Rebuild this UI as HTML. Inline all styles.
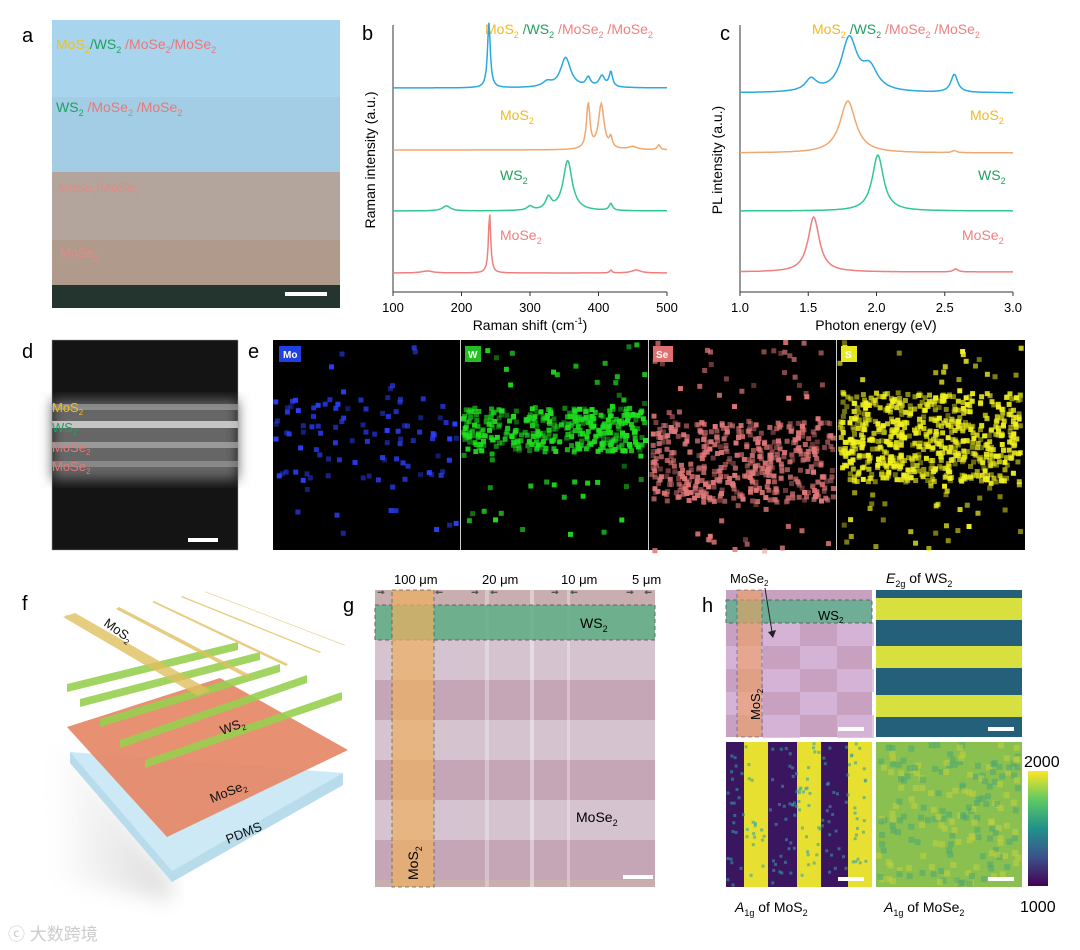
<!DOCTYPE html>
<html><head><meta charset="utf-8"><style>
html,body{margin:0;padding:0;background:#fff}
svg{display:block;font-family:"Liberation Sans",Arial,sans-serif}
</style></head><body>
<svg id="fig" width="1080" height="950" viewBox="0 0 1080 950">
<defs>
<linearGradient id="shadow" x1="0" y1="0" x2="1" y2="0"><stop offset="0" stop-color="#fff"/><stop offset="1" stop-color="#999"/></linearGradient>
<linearGradient id="cbar" x1="0" y1="1" x2="0" y2="0"><stop offset="0" stop-color="#440154"/><stop offset="0.25" stop-color="#3b528b"/><stop offset="0.5" stop-color="#21918c"/><stop offset="0.75" stop-color="#5ec962"/><stop offset="1" stop-color="#fde725"/></linearGradient>
<filter id="blur"><feGaussianBlur stdDeviation="6"/></filter>
<filter id="blur2"><feGaussianBlur stdDeviation="10"/></filter>
</defs>

<!-- panel a -->
<g>
<text x="22" y="42" font-size="20">a</text>
<rect x="52" y="20" width="288" height="78" fill="#a9d4ee"/>
<rect x="52" y="97" width="288" height="76" fill="#a3cde5"/>
<rect x="52" y="172" width="288" height="68" fill="#b3a49c"/>
<rect x="52" y="240" width="288" height="45" fill="#b09a8c"/>
<rect x="52" y="285" width="288" height="23" fill="#24342f"/>
<rect x="285" y="292" width="42" height="4" fill="#fff"/>
<text x="56" y="49" font-size="14"><tspan fill="#f0c020">MoS<tspan font-size="9" dy="4">2</tspan></tspan><tspan dy="-4" fill="#1fa060">/WS<tspan font-size="9" dy="4">2</tspan></tspan><tspan dy="-4" fill="#e87878"> /MoSe<tspan font-size="9" dy="4">2</tspan></tspan><tspan dy="-4" fill="#e87878">/MoSe<tspan font-size="9" dy="4">2</tspan></tspan></text>
<text x="56" y="112" font-size="14"><tspan fill="#1fa060">WS<tspan font-size="9" dy="4">2</tspan></tspan><tspan dy="-4" fill="#e87878"> /MoSe<tspan font-size="9" dy="4">2</tspan></tspan><tspan dy="-4" fill="#e87878"> /MoSe<tspan font-size="9" dy="4">2</tspan></tspan></text>
<text x="58" y="192" font-size="13" fill="#e48a84">MoSe<tspan font-size="8" dy="4">2</tspan><tspan dy="-4">/MoSe</tspan><tspan font-size="8" dy="4">2</tspan></text>
<text x="60" y="257" font-size="13" fill="#e48a84">MoSe<tspan font-size="8" dy="4">2</tspan></text>
</g>

<!-- panel b & c axes -->
<g id="chartB">
<text x="362" y="40" font-size="20">b</text>
<line x1="393" y1="25" x2="393" y2="292" stroke="#333"/>
<line x1="393" y1="292" x2="667" y2="292" stroke="#333"/>
<text transform="translate(375,160) rotate(-90)" text-anchor="middle" font-size="14">Raman intensity (a.u.)</text>
<text x="530" y="330" text-anchor="middle" font-size="14">Raman shift (cm<tspan font-size="9" dy="-6">-1</tspan><tspan dy="6">)</tspan></text>
<text x="485" y="34" font-size="14"><tspan fill="#f0b820">MoS<tspan font-size="9" dy="4">2</tspan></tspan><tspan dy="-4" fill="#1fa060"> /WS<tspan font-size="9" dy="4">2</tspan></tspan><tspan dy="-4" fill="#ef7f7f"> /MoSe<tspan font-size="9" dy="4">2</tspan></tspan><tspan dy="-4" fill="#ef7f7f"> /MoSe<tspan font-size="9" dy="4">2</tspan></tspan></text>
<text x="500" y="120" font-size="14" fill="#f0b820">MoS<tspan font-size="9" dy="4">2</tspan></text>
<text x="500" y="180" font-size="14" fill="#1fa060">WS<tspan font-size="9" dy="4">2</tspan></text>
<text x="500" y="240" font-size="14" fill="#ef7f7f">MoSe<tspan font-size="9" dy="4">2</tspan></text>
<g id="bTicks"></g><g id="bLines"></g>
</g>
<g id="chartC">
<text x="720" y="40" font-size="20">c</text>
<line x1="740" y1="25" x2="740" y2="292" stroke="#333"/>
<line x1="740" y1="292" x2="1013" y2="292" stroke="#333"/>
<text transform="translate(722,160) rotate(-90)" text-anchor="middle" font-size="14">PL intensity (a.u.)</text>
<text x="876" y="330" text-anchor="middle" font-size="14">Photon energy (eV)</text>
<text x="812" y="34" font-size="14"><tspan fill="#f0b820">MoS<tspan font-size="9" dy="4">2</tspan></tspan><tspan dy="-4" fill="#1fa060"> /WS<tspan font-size="9" dy="4">2</tspan></tspan><tspan dy="-4" fill="#ef7f7f"> /MoSe<tspan font-size="9" dy="4">2</tspan></tspan><tspan dy="-4" fill="#ef7f7f"> /MoSe<tspan font-size="9" dy="4">2</tspan></tspan></text>
<text x="970" y="120" font-size="14" fill="#f0b820">MoS<tspan font-size="9" dy="4">2</tspan></text>
<text x="978" y="180" font-size="14" fill="#1fa060">WS<tspan font-size="9" dy="4">2</tspan></text>
<text x="962" y="240" font-size="14" fill="#ef7f7f">MoSe<tspan font-size="9" dy="4">2</tspan></text>
<g id="cTicks"></g><g id="cLines"></g>
</g>

<!-- panel d -->
<g>
<text x="22" y="358" font-size="20">d</text>
<rect x="52" y="340" width="186" height="210" fill="#141414"/>
<rect x="52" y="400" width="186" height="80" fill="#666" filter="url(#blur)"/>
<rect x="52" y="404" width="186" height="6" fill="#aaa" opacity="0.6"/>
<rect x="52" y="421" width="186" height="7" fill="#ddd" opacity="0.8"/>
<rect x="52" y="442" width="186" height="6" fill="#bbb" opacity="0.6"/>
<rect x="52" y="461" width="186" height="6" fill="#aaa" opacity="0.5"/>
<rect x="52" y="340" width="186" height="210" fill="none" stroke="#999" stroke-width="0.5"/>
<rect x="188" y="538" width="30" height="4" fill="#fff"/>
<text x="52" y="412" font-size="13" fill="#f0c020">MoS<tspan font-size="8" dy="3">2</tspan></text>
<text x="52" y="432" font-size="13" fill="#1fa060">WS<tspan font-size="8" dy="3">2</tspan></text>
<text x="52" y="452" font-size="13" fill="#e87878">MoSe<tspan font-size="8" dy="3">2</tspan></text>
<text x="52" y="471" font-size="13" fill="#e87878">MoSe<tspan font-size="8" dy="3">2</tspan></text>
</g>

<!-- panel e -->
<g>
<text x="248" y="358" font-size="20">e</text>
<rect x="273" y="340" width="752" height="210" fill="#000"/>
<g id="eMaps"></g>
<line x1="460.5" y1="340" x2="460.5" y2="550" stroke="#ccc"/>
<line x1="648.5" y1="340" x2="648.5" y2="550" stroke="#ccc"/>
<line x1="836.5" y1="340" x2="836.5" y2="550" stroke="#ccc"/>
<rect x="279" y="346" width="22" height="16" fill="#2040e0"/><text x="283" y="358" font-size="10" fill="#fff" font-weight="bold">Mo</text>
<rect x="465" y="346" width="16" height="16" fill="#20c020"/><text x="468" y="358" font-size="10" fill="#fff" font-weight="bold">W</text>
<rect x="653" y="346" width="20" height="16" fill="#e07070"/><text x="656" y="358" font-size="10" fill="#fff" font-weight="bold">Se</text>
<rect x="841" y="346" width="16" height="16" fill="#e8e820"/><text x="845" y="358" font-size="10" fill="#fff" font-weight="bold">S</text>
</g>

<!-- panel f -->
<g>
<text x="22" y="610" font-size="20">f</text>
<polygon points="52,740 70,752 172,882 172,900 60,880 52,800" fill="url(#shadow)" opacity="0.35" filter="url(#blur2)"/>
<polygon points="70,752 343,773 343,785 172,882 70,763" fill="#cde9f5"/>
<polygon points="70,752 172,871 343,773 343,785 172,882 70,763" fill="#b9dcec"/>
<polygon points="67,727 220,678 348,750 167,837" fill="#e68a6a" opacity="0.95"/>
<g fill="#98d050" opacity="0.9">
<polygon points="67,684 238,642 238,650 67,692"/>
<polygon points="80,699 260,652 260,660 80,707"/>
<polygon points="100,719 280,664 280,672 100,727"/>
<polygon points="120,740 307,675 307,683 120,748"/>
<polygon points="145,760 342,692 342,700 145,768"/>
</g>
<g fill="#e0c060" opacity="0.8">
<polygon points="65,614 72,622 210,694 203,688" />
<polygon points="63,617 75,613 210,690 198,696"/>
<polygon points="116,609 119,607 250,675 247,678"/>
<polygon points="152,602 154,601 288,664 286,666"/>
<polygon points="181,597 182,596 321,652 320,653"/>
<polygon points="205,592 205.5,591.5 345,645 344.5,645.5"/>
</g>
<text transform="translate(103,625) rotate(35)" font-size="13" fill="#111">MoS<tspan font-size="8" dy="3">2</tspan></text>
<text transform="translate(222,735) rotate(-20)" font-size="13" fill="#111">WS<tspan font-size="8" dy="3">2</tspan></text>
<text transform="translate(212,803) rotate(-22)" font-size="13" fill="#111">MoSe<tspan font-size="8" dy="3">2</tspan></text>
<text transform="translate(228,844) rotate(-22)" font-size="13" fill="#111">PDMS</text>
</g>

<!-- panel g -->
<g>
<text x="343" y="612" font-size="20">g</text>
<rect x="375" y="590" width="280" height="297" fill="#c9aeb0"/>
<g id="gBands"></g>
<rect x="530" y="590" width="4" height="297" fill="#fff" opacity="0.4"/>
<rect x="485" y="590" width="4" height="297" fill="#fff" opacity="0.3"/>
<rect x="567" y="590" width="3" height="297" fill="#fff" opacity="0.3"/>
<rect x="375" y="605" width="280" height="35" fill="#5fb088" opacity="0.85" stroke="#555" stroke-dasharray="4,3"/>
<rect x="392" y="590" width="42" height="297" fill="#f0b060" opacity="0.7" stroke="#555" stroke-dasharray="4,3"/>
<rect x="623" y="875" width="30" height="4" fill="#fff"/>
<text x="580" y="628" font-size="14">WS<tspan font-size="9" dy="4">2</tspan></text>
<text x="576" y="822" font-size="14">MoSe<tspan font-size="9" dy="4">2</tspan></text>
<text transform="translate(418,880) rotate(-90)" font-size="14">MoS<tspan font-size="9" dy="4">2</tspan></text>
<text x="394" y="584" font-size="13">100 μm</text><text x="482" y="584" font-size="13">20 μm</text>
<text x="561" y="584" font-size="13">10 μm</text><text x="632" y="584" font-size="13">5 μm</text>
<g stroke="#555" fill="#555" font-size="10">
<text x="376" y="594">→</text><text x="434" y="594">←</text><text x="470" y="594">→</text><text x="489" y="594">←</text>
<text x="550" y="594">→</text><text x="569" y="594">←</text><text x="625" y="594">→</text><text x="643" y="594">←</text>
</g>
</g>

<!-- panel h -->
<g>
<text x="702" y="612" font-size="20">h</text>
<rect x="726" y="590" width="146" height="147" fill="#c8a0c0"/>
<g id="hChecker"></g>
<rect x="726" y="600" width="146" height="23" fill="#60b090" opacity="0.85" stroke="#555" stroke-dasharray="4,3"/>
<rect x="737" y="590" width="25" height="147" fill="#f0a060" opacity="0.6" stroke="#555" stroke-dasharray="4,3"/>
<text x="818" y="620" font-size="13">WS<tspan font-size="8" dy="3">2</tspan></text>
<text transform="translate(760,720) rotate(-90)" font-size="13">MoS<tspan font-size="8" dy="3">2</tspan></text>
<text x="730" y="583" font-size="13">MoSe<tspan font-size="8" dy="3">2</tspan></text>
<line x1="765" y1="588" x2="772" y2="632" stroke="#222"/><polygon points="768,632 776,630 773,638" fill="#222"/>
<rect x="838" y="727" width="26" height="4" fill="#fff"/>
<rect x="876" y="590" width="146" height="147" fill="#24607a"/>
<g id="hStripesH"></g>
<rect x="988" y="727" width="26" height="4" fill="#fff"/>
<rect x="726" y="742" width="146" height="145" fill="#3a1560"/>
<g id="hStripesV"></g>
<rect x="838" y="877" width="26" height="4" fill="#fff"/>
<rect x="876" y="742" width="146" height="145" fill="#8ac050"/>
<g id="hNoise"></g>
<rect x="988" y="877" width="26" height="4" fill="#fff"/>
<rect x="1028" y="771" width="20" height="115" fill="url(#cbar)"/>
<text x="1024" y="767" font-size="16">2000</text><text x="1020" y="912" font-size="16">1000</text>
<text x="886" y="583" font-size="14"><tspan font-style="italic">E</tspan><tspan font-size="9" dy="4">2g</tspan><tspan dy="-4"> of WS</tspan><tspan font-size="9" dy="4">2</tspan></text>
<text x="735" y="912" font-size="14"><tspan font-style="italic">A</tspan><tspan font-size="9" dy="4">1g</tspan><tspan dy="-4"> of MoS</tspan><tspan font-size="9" dy="4">2</tspan></text>
<text x="884" y="912" font-size="14"><tspan font-style="italic">A</tspan><tspan font-size="9" dy="4">1g</tspan><tspan dy="-4"> of MoSe</tspan><tspan font-size="9" dy="4">2</tspan></text>
</g>
<text x="8" y="940" font-size="17" fill="#ccc" font-family="'Liberation Sans','Noto Sans CJK SC',sans-serif">ⓒ 大数跨境</text>
</svg>
<script>
// Raman data: peaks [position cm-1, height a.u., width]
const ramanSeries = ["heterostructure","MoS2","WS2","MoSe2"];
const ramanColors = ["#2aa8e0","#f0a870","#30c890","#ef7f7f"];
const ramanOffsets = [204,142,81,19];
const ramanPeaks = [
 [[240,65,2.5],[352,30,9],[325,5,8],[385,9,4],[405,11,5],[418,15,3]],
 [[385,45,3],[404,45,5],[418,10,2.5],[450,3,8],[488,5,2.5]],
 [[355,50,8],[327,12,5],[300,4,5],[178,5,7],[418,7,3]],
 [[241,60,2],[418,3,2],[455,3,8],[150,2,10]]
];
const ramanTicks = [100,200,300,400,500];
// PL data: peaks [energy eV, height, width]
const plOffsets = [199,139,81,20];
const plPeaks = [
 [[1.52,12,0.05],[1.8,53,0.07],[1.95,22,0.07],[2.57,18,0.03]],
 [[1.79,52,0.07],[2.57,2,0.02]],
 [[2.01,56,0.05]],
 [[1.54,55,0.05],[2.58,3,0.02]]
];
const plTicks = [1.0,1.5,2.0,2.5,3.0];
const NS='http://www.w3.org/2000/svg';
function mk(tag,attrs,parent){const e=document.createElementNS(NS,tag);for(const k in attrs)e.setAttribute(k,attrs[k]);parent.appendChild(e);return e;}
const yS=v=>292-v;
function drawChart(ticksG,linesG,x0,x1,dmin,dmax,ticks,offsets,peaks,fmt,prefix){
 const xS=v=>x0+(v-dmin)/(dmax-dmin)*(x1-x0);
 ticks.forEach(t=>{
  const l=mk('line',{x1:xS(t),x2:xS(t),y1:292,y2:296,stroke:'#333'},ticksG);
  
  
  const tx=mk('text',{x:xS(t),y:312,'text-anchor':'middle','font-size':13},ticksG);
  tx.textContent=fmt(t);
  
  
 });
 offsets.forEach((off,i)=>{
  let d='';
  for(let k=0;k<=300;k++){
   const v=dmin+(dmax-dmin)*k/300;
   let s=off;
   peaks[i].forEach(p=>{const z=(v-p[0])/p[2];s+=p[1]/(1+z*z);});
   d+=(k?'L':'M')+xS(v).toFixed(1)+','+yS(s).toFixed(1);
  }
  const p=mk('path',{d:d,fill:'none',stroke:ramanColors[i],'stroke-width':1.5},linesG);
  
  
 });
}
drawChart(document.getElementById('bTicks'),document.getElementById('bLines'),393,667,100,500,ramanTicks,ramanOffsets,ramanPeaks,t=>t,'raman');
drawChart(document.getElementById('cTicks'),document.getElementById('cLines'),740,1013,1.0,3.0,plTicks,plOffsets,plPeaks,t=>t.toFixed(1),'pl');
// decorative image textures (deterministic)
let seed=7;const rnd=()=>{seed=(seed*16807)%2147483647;return seed/2147483647;};
const eG=document.getElementById('eMaps');
const eCfg=[[273,'#2a40ff',110,395,480],[461,'#20e020',400,405,450],[649,'#e07878',500,420,500],[837,'#f0f020',700,390,480]];
eCfg.forEach(c=>{for(let i=0;i<c[2];i++){const y=rnd()<0.85?c[3]+rnd()*(c[4]-c[3]):340+rnd()*210;mk('rect',{x:c[0]+rnd()*182,y:y,width:5,height:5,fill:c[1],opacity:0.4+rnd()*0.6},eG);}});
const gB=document.getElementById('gBands');
[640,680,720,760,800,840].forEach((y,i)=>mk('rect',{x:375,y:y,width:280,height:40,fill:i%2?'#c4a4b8':'#d8c8d8',opacity:0.8},gB));
const hc=document.getElementById('hChecker');
for(let i=0;i<5;i++)for(let j=0;j<4;j++)if((i+j)%2)mk('rect',{x:726+j*37,y:623+i*23,width:37,height:23,fill:'#d8b8dc',opacity:0.8},hc);
const hh=document.getElementById('hStripesH');
[598,646,695].forEach(y=>mk('rect',{x:876,y:y,width:146,height:22,fill:'#d8e040'},hh));
const hv=document.getElementById('hStripesV');
[752,805,856].forEach(x=>mk('rect',{x:x-8,y:742,width:24,height:145,fill:'#e8e030'},hv));
for(let i=0;i<150;i++)mk('rect',{x:726+rnd()*143,y:742+rnd()*142,width:3,height:3,fill:'#30a0a0',opacity:0.6},hv);
const hn=document.getElementById('hNoise');
for(let i=0;i<200;i++)mk('rect',{x:876+rnd()*140,y:742+rnd()*139,width:6,height:6,fill:rnd()<0.5?'#c0d040':'#50a870',opacity:0.6},hn);
</script>
</body></html>
